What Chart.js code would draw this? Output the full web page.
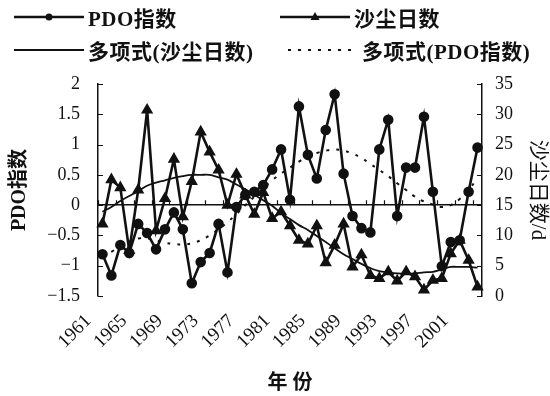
<!DOCTYPE html>
<html>
<head>
<meta charset="utf-8">
<script src="https://cdn.jsdelivr.net/npm/chart.js@4.4.1/dist/chart.umd.min.js"></script>
<style>
  html, body { margin: 0; padding: 0; background: #fff; }
  #wrap { position: relative; width: 550px; height: 396px; }
  #legend { position: absolute; left: 0; top: 0; width: 550px; height: 70px;
    font: bold 21px 'Liberation Serif', 'Noto Sans CJK SC', serif; color: #111; letter-spacing: 0.5px; }
  .item { position: absolute; display: flex; align-items: center; height: 26px; white-space: nowrap; }
  .item svg { margin-right: 4px; }
</style>
</head>
<body>
<div id="wrap">
  <canvas id="chart" width="550" height="396"></canvas>
  <div id="legend"></div>
</div>
<script>
// years on the category axis
const years = ["1961","1962","1963","1964","1965","1966","1967","1968","1969","1970",
  "1971","1972","1973","1974","1975","1976","1977","1978","1979","1980",
  "1981","1982","1983","1984","1985","1986","1987","1988","1989","1990",
  "1991","1992","1993","1994","1995","1996","1997","1998","1999","2000",
  "2001","2002","2003"];

// PDO index (left axis)
const pdoIndex = [-0.81, -1.16, -0.66, -0.79, -0.31, -0.46, -0.73, -0.40, -0.12, -0.40,
  -1.29, -0.94, -0.79, -0.31, -1.11, -0.03, 0.17, 0.22, 0.33, 0.59,
  0.92, 0.09, 1.63, 0.83, 0.44, 1.24, 1.83, 0.52, -0.18, -0.38,
  -0.45, 0.92, 1.41, -0.18, 0.62, 0.62, 1.46, 0.22, -1.01, -0.61,
  -0.58, 0.22, 0.95];

// dust days (right axis)
const dustDays = [11.9, 19.2, 17.9, 7.5, 17.5, 30.7, 10.8, 16.1, 22.6, 13.1,
  18.9, 27.1, 23.8, 20.8, 15.0, 20.1, 16.7, 13.5, 17.1, 12.8,
  13.9, 11.6, 9.2, 8.6, 11.6, 5.5, 8.4, 11.9, 4.8, 6.8,
  3.4, 2.9, 4.0, 2.5, 4.0, 3.2, 1.0, 2.6, 2.9, 7.0,
  9.2, 5.9, 1.5];

// polynomial trend of dust days
const dustTrend = [13.9, 14.7, 15.7, 16.5, 17.3, 18.2, 18.7, 19.1, 19.5, 19.8,
  20.0, 20.0, 20.0, 19.6, 19.2, 18.4, 17.6, 16.7, 15.8, 14.9,
  13.7, 12.7, 11.7, 10.9, 9.9, 8.9, 7.9, 6.9, 6.1, 5.3,
  4.6, 4.1, 3.9, 3.75, 3.7, 3.75, 3.9, 4.0, 4.4, 4.8,
  4.8, 4.8, 4.7];

// polynomial trend of PDO index
const pdoTrend = [-0.85, -0.77, -0.68, -0.60, -0.55, -0.55, -0.58, -0.62, -0.64, -0.65,
  -0.63, -0.58, -0.50, -0.40, -0.28, -0.15, 0.00, 0.14, 0.28, 0.41,
  0.52, 0.62, 0.72, 0.80, 0.86, 0.90, 0.92, 0.90, 0.85, 0.78,
  0.68, 0.58, 0.48, 0.36, 0.25, 0.14, 0.06, 0.01, -0.03, 0.00,
  0.10, 0.25, 0.45];

const ink = "#111";
const serif = "'Liberation Serif', 'Noto Sans CJK SC', serif";

// inward ticks on both value axes and small ticks along the zero line
const axisTicks = {
  id: "axisTicks",
  beforeDatasetsDraw(chart) {
    const { ctx, chartArea, scales } = chart;
    ctx.save();
    ctx.strokeStyle = ink;
    ctx.lineWidth = 1.2;
    ctx.beginPath();
    scales.y.ticks.forEach(t => {
      const py = Math.round(scales.y.getPixelForValue(t.value)) + 0.5;
      ctx.moveTo(chartArea.left, py);
      ctx.lineTo(chartArea.left + 5, py);
    });
    scales.y1.ticks.forEach(t => {
      const py = Math.round(scales.y1.getPixelForValue(t.value)) + 0.5;
      ctx.moveTo(chartArea.right, py);
      ctx.lineTo(chartArea.right - 5, py);
    });
    const zy = scales.y.getPixelForValue(0);
    const step = scales.x.getPixelForValue(1) - scales.x.getPixelForValue(0);
    for (let i = 0; i < years.length; i += 2) {
      const px = Math.round(scales.x.getPixelForValue(i) - step / 2) + 0.5;
      ctx.moveTo(px, zy);
      ctx.lineTo(px, zy - 5);
    }
    ctx.stroke();
    ctx.restore();
  }
};

const chart = new Chart(document.getElementById("chart"), {
  type: "line",
  data: {
    labels: years,
    datasets: [
      {
        label: "PDO指数",
        data: pdoIndex,
        yAxisID: "y",
        borderColor: ink,
        borderWidth: 2.6,
        pointStyle: "circle",
        pointRadius: 4,
        pointBackgroundColor: ink,
        pointBorderColor: ink,
        tension: 0
      },
      {
        label: "沙尘日数",
        data: dustDays,
        yAxisID: "y1",
        borderColor: ink,
        borderWidth: 2.6,
        pointStyle: "triangle",
        pointRadius: 4.5,
        pointBackgroundColor: ink,
        pointBorderColor: ink,
        tension: 0
      },
      {
        label: "多项式(沙尘日数)",
        data: dustTrend,
        yAxisID: "y1",
        borderColor: ink,
        borderWidth: 1.8,
        pointRadius: 0,
        tension: 0.4
      },
      {
        label: "多项式(PDO指数)",
        data: pdoTrend,
        yAxisID: "y",
        borderColor: ink,
        borderWidth: 2,
        borderDash: [3, 7],
        pointRadius: 0,
        tension: 0.4
      }
    ]
  },
  options: {
    responsive: false,
    animation: false,
    layout: { padding: { top: 84, left: 0, right: 0, bottom: 0 } },
    plugins: { legend: { display: false }, tooltip: { enabled: false } },
    scales: {
      x: {
        offset: true,
        grid: { display: false, drawTicks: false },
        border: { display: false },
        ticks: {
          autoSkip: false,
          minRotation: 45,
          maxRotation: 45,
          labelOffset: -14,
          padding: 14,
          color: ink,
          font: { family: serif, size: 19 },
          callback: (v, i) => (i % 4 === 0 ? years[i] : "")
        },
        title: { display: true, text: "年 份", color: ink, font: { family: serif, size: 20, weight: "bold" }, padding: { top: 4, bottom: 0 } },
        afterFit: s => { s.height = 100; }
      },
      y: {
        position: "left",
        min: -1.5,
        max: 2,
        ticks: {
          stepSize: 0.5,
          padding: 18,
          color: ink,
          font: { family: serif, size: 18 },
          callback: v => (v < 0 ? "\u2212" + Math.abs(v) : String(v))
        },
        grid: {
          drawTicks: false,
          color: c => (c.tick && c.tick.value === 0 ? ink : "transparent"),
          lineWidth: 1.5
        },
        border: { color: ink, width: 1.5 },
        title: { display: true, text: "PDO指数", color: ink, font: { family: serif, size: 20, weight: "bold" }, padding: { top: 8, bottom: 0 } },
        afterFit: s => { s.width = 98; }
      },
      y1: {
        position: "right",
        min: 0,
        max: 35,
        ticks: { stepSize: 5, padding: 13, color: ink, font: { family: serif, size: 18 } },
        grid: { drawOnChartArea: false, drawTicks: false },
        border: { color: ink, width: 1.5 },
        title: { display: true, text: "沙尘日数/d", color: ink, font: { family: serif, size: 21 }, padding: { top: 0, bottom: 4 } },
        afterFit: s => { s.width = 68; }
      }
    }
  },
  plugins: [axisTicks]
});

// two-column legend built from the datasets
const legendSlots = [
  { left: 14, top: 4 }, { left: 280, top: 4 },
  { left: 14, top: 37 }, { left: 288, top: 37 }
];
const legendMarkers = { circle: '<circle cx="35" cy="10" r="3.5" fill="#111"/>',
  triangle: '<polygon points="35,5 39.5,13 30.5,13" fill="#111"/>' };
document.getElementById("legend").innerHTML = chart.data.datasets.map((ds, i) => {
  const dash = ds.borderDash ? ` stroke-dasharray="${ds.borderDash.join(" ")}"` : "";
  const marker = ds.pointRadius ? legendMarkers[ds.pointStyle] : "";
  return `<div class="item" style="left:${legendSlots[i].left}px;top:${legendSlots[i].top}px">
    <svg width="70" height="20"><line x1="0" y1="10" x2="70" y2="10" stroke="#111" stroke-width="${ds.borderWidth}"${dash}/>${marker}</svg>
    <span>${ds.label}</span></div>`;
}).join("");
</script>
</body>
</html>
